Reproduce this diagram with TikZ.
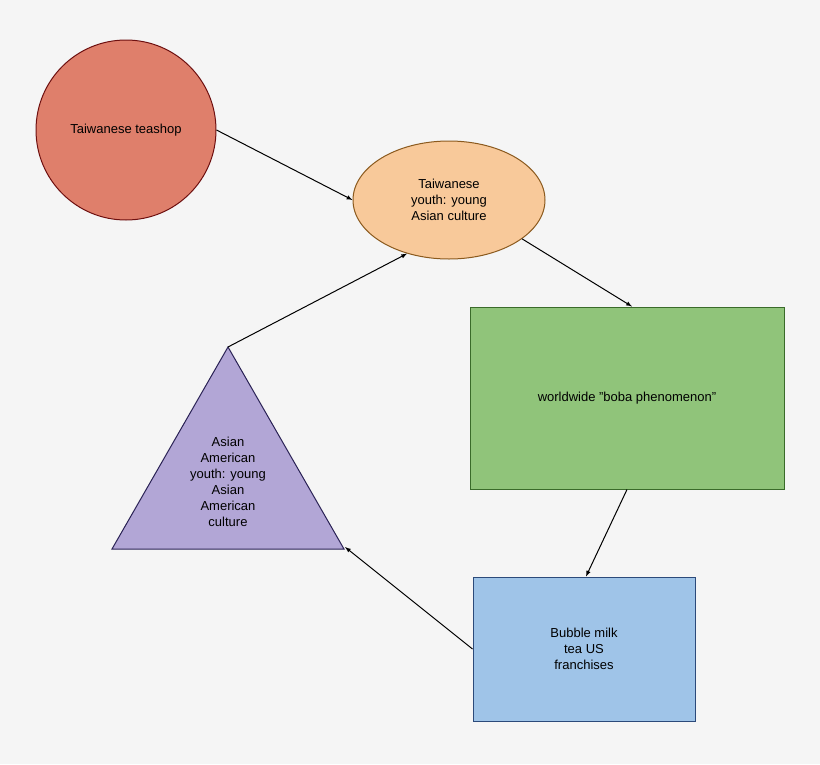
\documentclass[tikz,border=0pt]{standalone}
\usepackage{fontspec}
\setmainfont{Liberation Sans}
\usetikzlibrary{shapes.geometric}
\definecolor{bgc}{HTML}{F5F5F5}
\tikzstyle{block} = [draw, line width=1pt, align=center, font=\fontsize{13}{16}\selectfont]
\tikzstyle{link} = [draw, line width=1pt, -latex]
\begin{document}
\begin{tikzpicture}[x=1pt, y=-1pt]
		\fill[bgc] (0,0) rectangle (820,764);
		% nodes
		\node[block, circle, fill={rgb,255:red,223;green,127;blue,107}, draw={rgb,255:red,110;green,16;blue,16}, minimum size=180pt, inner sep=0pt] (shop) at (126,130) {Taiwanese teashop};
		\node[block, ellipse, fill={rgb,255:red,248;green,201;blue,154}, draw={rgb,255:red,139;green,90;blue,30}, minimum width=192pt, minimum height=118pt, inner sep=0pt] (taiwan) at (449,200) {Taiwanese\\youth: young\\Asian culture};
		\node[block, rectangle, fill={rgb,255:red,144;green,196;blue,122}, draw={rgb,255:red,58;green,107;blue,42}, minimum width=314pt, minimum height=182pt] (boba) at (627,398) {worldwide "boba phenomenon"};
		\node[block, rectangle, fill={rgb,255:red,159;green,196;blue,232}, draw={rgb,255:red,44;green,74;blue,122}, minimum width=222pt, minimum height=144pt] (us) at (584,649) {Bubble milk\\tea US\\franchises};
		\coordinate (apex) at (228,347);
		\coordinate (left) at (112,549);
		\coordinate (right) at (344,549);
		\path[draw, line width=1pt, fill={rgb,255:red,178;green,166;blue,214}, draw={rgb,255:red,42;green,34;blue,85}] (apex) -- (right) -- (left) -- cycle;
		\node[align=center, font=\fontsize{13}{16}\selectfont] (asian) at (228,482) {Asian\\American\\youth: young\\Asian\\American\\culture};
		% connectors
		\path[link] (shop.east) -- (taiwan.west);
		\path[link] (taiwan.-28) -- ([xshift=5pt]boba.north);
		\path[link] (boba.south) -- ([xshift=2pt]us.north);
		\path[link] (us.west) -- ([xshift=1pt,yshift=2pt]right);
		\path[link] (apex) -- (taiwan.-128);
\end{tikzpicture}
\end{document}
